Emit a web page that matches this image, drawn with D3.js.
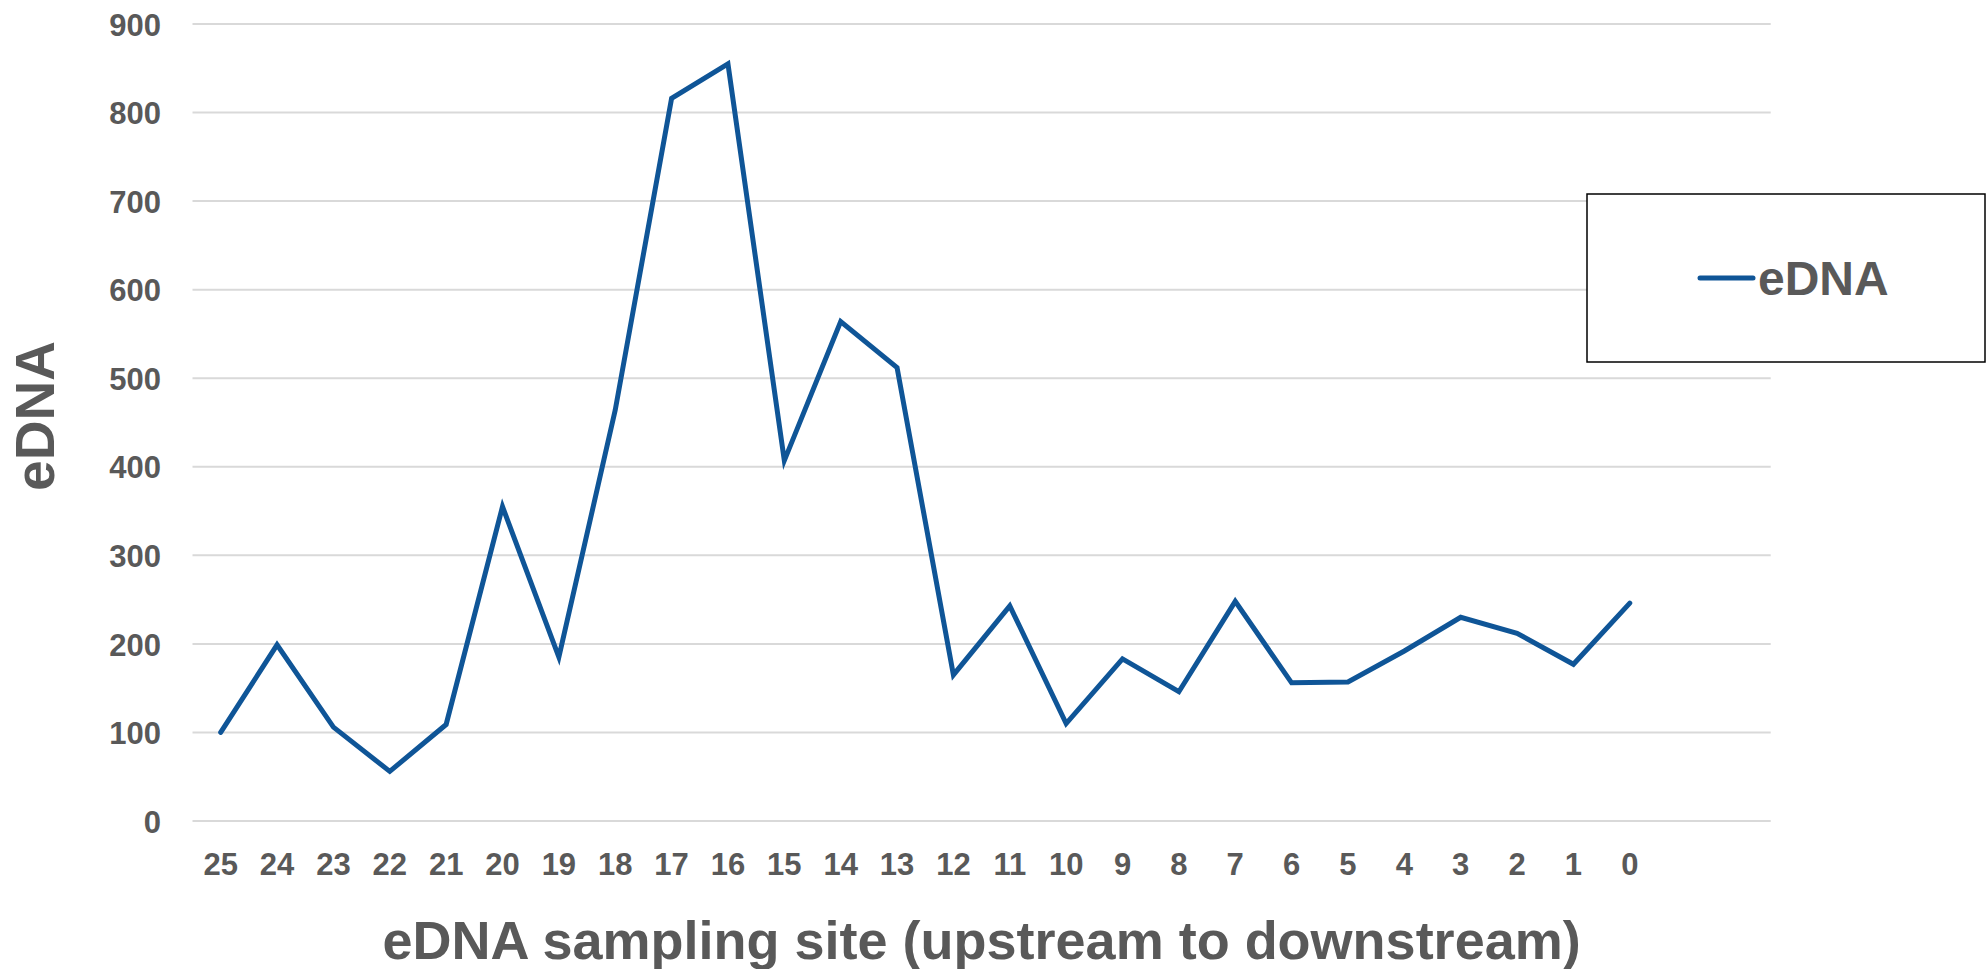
<!DOCTYPE html>
<html>
<head>
<meta charset="utf-8">
<script src="https://cdn.jsdelivr.net/npm/d3@7"></script>
<style>
  html, body { margin: 0; padding: 0; background: #fff; }
  svg { display: block; }
  text { font-family: "Liberation Sans", Arial, sans-serif; font-weight: bold; fill: #595959; }
</style>
</head>
<body>
<svg id="chart" width="1986" height="969"></svg>
<script>
// Sampling sites, ordered upstream (25) to downstream (0)
const sites = ["25","24","23","22","21","20","19","18","17","16","15","14","13",
               "12","11","10","9","8","7","6","5","4","3","2","1","0"];
// eDNA reading at each site
const eDNA = [100, 199, 106, 56, 109, 355, 185, 464, 816, 855, 407, 564, 512,
              165, 243, 110, 183, 146, 248, 156, 157, 192, 230, 212, 177, 246];
const yTicks = [0, 100, 200, 300, 400, 500, 600, 700, 800, 900];
const seriesName = "eDNA";
const xTitle = "eDNA sampling site (upstream to downstream)";
const yTitle = "eDNA";

const svg = d3.select("#chart");
const plot = { left: 192.5, right: 1770.7, top: 24, bottom: 821 };

// The category axis reserves two empty slots past the last site
const slots = sites.length + 2;
const step = (plot.right - plot.left) / slots;
const x = d3.scaleBand()
  .domain(sites)
  .range([plot.left, plot.left + step * sites.length])
  .paddingInner(0).paddingOuter(0);
const y = d3.scaleLinear().domain([0, 900]).range([plot.bottom, plot.top]);

const color = "#0f5597";

// Horizontal gridlines
svg.append("g").selectAll("line")
  .data(yTicks).join("line")
  .attr("x1", plot.left).attr("x2", plot.right)
  .attr("y1", d => y(d)).attr("y2", d => y(d))
  .attr("stroke", "#d9d9d9").attr("stroke-width", 2);

// Y axis tick labels
const yAxis = d3.axisLeft(y).tickValues(yTicks).tickSize(0).tickPadding(0);
const gy = svg.append("g").attr("transform", `translate(161,0)`).call(yAxis);
gy.select(".domain").remove();
gy.selectAll("text")
  .attr("font-size", 31).attr("font-family", null).attr("fill", "#595959")
  .attr("dy", "0.36em");

// X axis tick labels
const xAxis = d3.axisBottom(x).tickSize(0).tickPadding(0);
const gx = svg.append("g").attr("transform", `translate(0,875)`).call(xAxis);
gx.select(".domain").remove();
gx.selectAll("text")
  .attr("font-size", 31).attr("font-family", null).attr("fill", "#595959")
  .attr("dy", 0).attr("y", 0);

// Data line
const line = d3.line()
  .x((d, i) => x(sites[i]) + x.bandwidth() / 2)
  .y(d => y(d));
svg.append("path")
  .datum(eDNA)
  .attr("d", line)
  .attr("fill", "none")
  .attr("stroke", color)
  .attr("stroke-width", 5)
  .attr("stroke-linejoin", "miter")
  .attr("stroke-linecap", "round");

// Axis titles
svg.append("text")
  .attr("x", (plot.left + plot.right) / 2).attr("y", 959)
  .attr("text-anchor", "middle")
  .attr("font-size", 54)
  .text(xTitle);

svg.append("text")
  .attr("transform", `translate(54,416) rotate(-90)`)
  .attr("text-anchor", "middle")
  .attr("font-size", 55)
  .text(yTitle);

// Legend
const lg = svg.append("g");
lg.append("rect")
  .attr("x", 1587).attr("y", 194).attr("width", 398).attr("height", 168)
  .attr("fill", "#fff").attr("stroke", "#000").attr("stroke-width", 1.5);
lg.append("line")
  .attr("x1", 1700).attr("x2", 1753).attr("y1", 278).attr("y2", 278)
  .attr("stroke", color).attr("stroke-width", 5).attr("stroke-linecap", "round");
lg.append("text")
  .attr("x", 1758).attr("y", 295)
  .attr("font-size", 48)
  .text(seriesName);
</script>
</body>
</html>
